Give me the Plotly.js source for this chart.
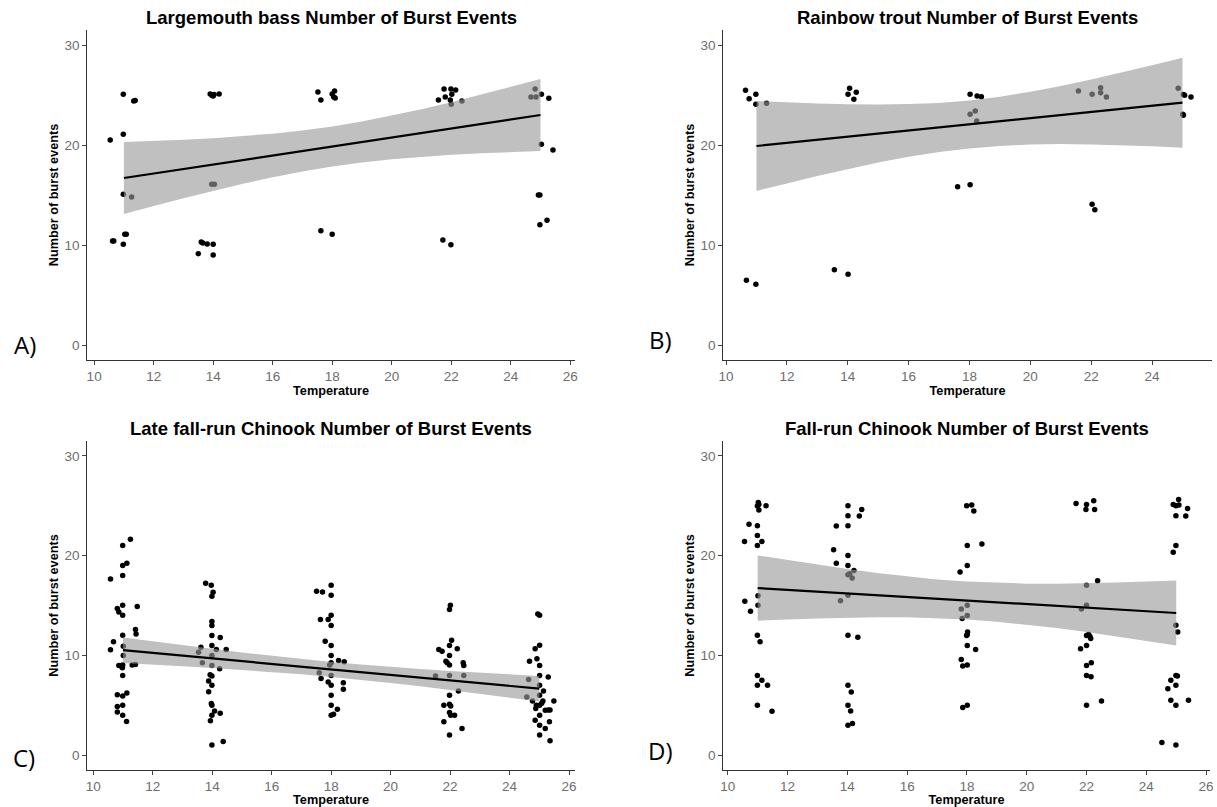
<!DOCTYPE html>
<html><head><meta charset="utf-8">
<script src="https://cdn.plot.ly/plotly-3.0.1.min.js"></script>
<style>html,body{margin:0;padding:0;background:#fff}#chart{width:1217px;height:807px}</style>
</head><body><div id="chart"></div>
<script>
// ---------------- data ----------------
const titles = ["Largemouth bass Number of Burst Events","Rainbow trout Number of Burst Events","Late fall-run Chinook Number of Burst Events","Fall-run Chinook Number of Burst Events"];
const panelLabels = ["A)","B)","C)","D)"];
const xTickVals = [10,12,14,16,18,20,22,24,26];
const yTickVals = [0,10,20,30];

// A) Largemouth bass
const xA = [10.54,10.62,10.66,10.98,10.98,10.98,10.98,11.03,11.08,11.33,11.38,11.26,13.5,13.6,13.65,13.8,14.0,14.0,13.9,13.96,14.0,14.03,14.2,13.95,14.04,17.52,17.62,18.0,18.05,18.08,18.1,17.62,18.0,21.57,21.76,21.8,21.99,22.02,21.97,22.15,22.0,22.36,21.72,21.99,24.68,24.82,24.85,25.03,25.28,25.03,25.42,24.93,24.98,25.22,24.98];
const yA = [20.5,10.4,10.4,25.07,21.07,15.07,10.07,11.07,11.07,24.4,24.45,14.8,9.13,10.3,10.2,10.1,10.07,9.0,25.1,24.95,24.9,25.05,25.1,16.07,16.07,25.3,24.5,25.1,24.8,25.4,24.7,11.43,11.07,24.5,25.6,24.8,25.6,25.07,24.5,25.5,24.07,24.4,10.5,10.03,24.8,25.6,24.8,25.07,24.67,20.07,19.5,15.0,15.0,12.47,12.03];

// B) Rainbow trout
const xB = [10.64,10.76,10.98,10.98,11.33,10.67,10.98,14.06,14.01,14.28,14.2,13.56,14.01,18.02,18.25,18.39,18.02,18.19,18.24,17.61,18.02,21.58,22.03,22.31,22.31,22.5,22.03,22.12,24.86,25.03,25.07,25.28,25.01,25.03];
const yB = [25.47,24.63,25.07,24.07,24.17,6.47,6.07,25.67,25.07,25.27,24.57,7.53,7.07,25.07,24.9,24.83,23.07,23.4,22.4,15.83,16.03,25.4,25.07,25.73,25.23,24.8,14.07,13.53,25.67,25.05,24.97,24.8,23.07,22.97];

// C) Late fall-run Chinook
const xC = [10.58,10.99,11.25,10.99,11.13,10.99,10.81,10.86,10.99,10.99,11.48,10.68,10.99,11.42,11.44,10.58,11.01,11.01,10.86,10.93,10.98,10.99,11.31,11.42,10.99,10.81,10.99,11.13,10.81,10.99,10.81,10.99,11.12,
  13.78,13.97,14.03,13.99,13.99,13.99,13.99,14.27,13.99,13.54,13.62,14.14,14.47,13.67,13.99,13.99,14.25,13.93,13.99,13.88,13.99,13.88,13.97,13.99,13.99,14.08,14.27,13.94,13.99,14.37,
  17.51,17.71,18.0,18.0,17.64,17.9,18.0,18.0,17.8,18.0,18.0,18.0,17.95,18.25,18.44,17.6,17.66,18.0,17.9,18.0,18.41,18.41,18.0,18.0,18.0,18.08,18.21,
  21.98,22.01,21.62,21.73,21.98,22.05,22.24,21.86,21.9,21.98,21.98,22.44,22.46,21.51,21.98,22.46,22.28,21.98,21.79,21.98,22.02,21.98,22.02,22.15,21.79,22.4,21.98,
  24.95,25.01,24.86,25.01,24.67,24.92,25.01,25.01,25.3,24.64,24.58,24.77,25.01,25.01,25.14,24.9,25.01,25.08,25.12,25.49,24.88,25.2,25.3,25.36,25.01,24.86,25.34,25.01,25.2,25.01,25.36];
const yC = [17.65,21.01,21.64,19.01,19.25,18.02,14.69,14.35,15.02,14.02,14.89,11.36,12.02,12.59,12.15,10.56,10.92,9.99,8.99,8.92,8.76,9.02,9.02,9.09,7.99,6.06,5.93,6.23,4.86,4.99,4.33,4.0,3.36,
  17.22,17.02,16.32,15.92,13.39,12.99,11.99,11.79,10.99,10.32,10.82,10.59,10.59,9.26,9.99,8.99,8.66,8.06,7.93,7.43,6.99,6.36,5.16,4.99,4.0,4.43,4.2,3.43,1.0,1.37,
  16.42,16.35,17.02,16.02,13.59,13.59,14.02,12.99,11.42,10.99,9.99,9.26,9.02,9.49,9.36,8.26,7.69,7.99,7.33,6.99,7.26,6.59,5.99,4.99,4.0,4.1,4.6,
  14.59,15.02,10.59,10.42,10.99,11.52,10.66,9.42,9.26,9.02,9.99,9.26,8.99,7.93,7.99,7.99,6.43,5.99,4.99,5.09,4.93,4.26,4.0,4.0,3.33,2.66,2.0,
  14.15,14.02,10.66,11.02,9.42,9.66,8.99,7.99,7.83,7.59,5.83,5.43,6.99,5.99,6.43,5.0,5.0,5.19,5.43,5.43,4.66,4.5,4.53,4.53,4.0,3.5,3.33,3.0,2.66,2.0,1.43];

// D) Fall-run Chinook
const xD = [10.56,10.71,11.02,11.04,10.99,11.28,11.04,10.99,10.99,11.14,10.99,10.57,10.76,11.01,11.01,10.99,11.08,10.99,11.14,10.99,11.33,10.99,11.48,
  14.02,14.02,14.4,14.48,13.63,14.02,13.54,13.63,14.02,14.02,14.22,14.02,14.08,14.16,13.77,14.02,14.02,14.35,14.02,14.13,14.02,14.11,14.02,14.17,
  17.99,18.16,18.23,18.01,18.5,18.01,17.77,17.81,17.84,18.01,18.01,18.02,18.01,17.99,18.01,18.29,17.81,17.86,18.01,17.86,18.01,
  21.65,22.0,21.98,22.24,22.27,22.0,22.37,21.83,22.0,22.0,22.11,22.14,22.07,21.8,22.0,22.0,22.16,22.0,22.15,22.5,22.0,
  24.9,24.99,25.09,25.08,25.38,24.99,25.32,24.99,24.9,24.99,25.05,24.99,25.04,24.82,24.72,24.99,24.82,24.99,25.41,24.52,24.99];
const yD = [21.41,23.14,25.34,25.14,24.97,25.0,24.58,23.01,22.01,21.41,21.01,15.42,14.42,15.98,15.02,12.02,11.36,7.99,7.49,6.99,6.99,5.0,4.4,
  25.01,24.01,23.98,24.64,22.98,23.01,20.58,19.25,20.01,19.01,18.52,18.08,18.18,17.75,15.48,16.02,12.02,11.82,6.99,6.33,5.0,4.43,3.0,3.16,
  25.01,25.07,24.48,21.01,21.18,19.01,18.35,14.65,13.69,15.02,13.99,12.35,12.09,11.99,10.99,10.59,9.59,8.92,9.02,4.76,5.0,
  25.24,25.14,24.64,25.51,24.64,17.02,17.48,14.65,15.02,11.99,11.92,11.69,12.09,10.66,10.99,8.99,9.26,7.99,7.86,5.43,5.0,
  25.14,25.01,25.07,25.64,24.74,24.01,23.98,21.01,20.35,13.02,12.35,7.99,7.93,7.49,6.66,6.99,5.49,5.0,5.49,1.27,1.0];

// fitted lines (end points) and confidence ribbons
const fitX = [11, 25];
const fitA = [16.7, 23.0];
const fitB = [19.9, 24.23];
const fitC = [10.52, 6.66];
const fitD = [16.75, 14.25];
const ribX = [11, 12, 13, 14, 15, 16, 17, 18, 19, 20, 21, 22, 23, 24, 25];
const upA = [20.30, 20.40, 20.53, 20.68, 20.88, 21.13, 21.45, 21.85, 22.35, 22.93, 23.58, 24.28, 25.03, 25.80, 26.60];
const loA = [13.10, 13.90, 14.67, 15.42, 16.12, 16.78, 17.36, 17.85, 18.26, 18.58, 18.82, 19.02, 19.17, 19.30, 19.40];
const upB = [24.40, 24.26, 24.15, 24.07, 24.04, 24.09, 24.21, 24.46, 24.83, 25.32, 25.89, 26.54, 27.24, 27.97, 28.73];
const loB = [15.40, 16.16, 16.89, 17.59, 18.24, 18.82, 19.29, 19.66, 19.91, 20.05, 20.09, 20.06, 19.98, 19.87, 19.73];
const upC = [11.80, 11.40, 11.02, 10.65, 10.29, 9.95, 9.63, 9.34, 9.08, 8.84, 8.63, 8.44, 8.27, 8.10, 7.94];
const loC = [9.24, 9.08, 8.91, 8.74, 8.55, 8.33, 8.10, 7.84, 7.55, 7.23, 6.89, 6.53, 6.16, 5.77, 5.38];
const upD = [20.02, 19.54, 19.08, 18.65, 18.26, 17.91, 17.62, 17.40, 17.26, 17.19, 17.18, 17.22, 17.30, 17.40, 17.52];
const loD = [13.48, 13.60, 13.70, 13.78, 13.82, 13.81, 13.74, 13.60, 13.38, 13.09, 12.74, 12.35, 11.92, 11.46, 10.98];

// ---------------- build ----------------
const W = 1217, H = 807;
const panels = [
  {xs:xA, ys:yA, fit:fitA, up:upA, lo:loA, px:[87,575], py:[30,360], xr:[9.76,26.16]},
  {xs:xB, ys:yB, fit:fitB, up:upB, lo:loB, px:[723,1212], py:[30,360], xr:[9.9,25.97]},
  {xs:xC, ys:yC, fit:fitC, up:upC, lo:loC, px:[87,575], py:[441,770], xr:[9.79,26.2]},
  {xs:xD, ys:yD, fit:fitD, up:upD, lo:loD, px:[723,1210], py:[441,770], xr:[9.84,26.13]}
];
const FONT = "Liberation Sans, Arial, sans-serif";
const traces = [];
const layout = {
  width: W, height: H, margin:{l:0,r:0,t:0,b:0},
  paper_bgcolor:'#ffffff', plot_bgcolor:'#ffffff', showlegend:false,
  font:{family:FONT, color:'#000'}, annotations:[]
};
panels.forEach((p,i)=>{
  const n = i===0 ? '' : String(i+1);
  const xa = 'x'+n, ya = 'y'+n;
  traces.push({type:'scatter', mode:'markers', x:p.xs, y:p.ys, xaxis:xa, yaxis:ya,
    marker:{color:'#000', size:5.5, line:{width:0}}, hoverinfo:'x+y'});
  traces.push({type:'scatter', mode:'lines', x:ribX.concat(ribX.slice().reverse()),
    y:p.up.concat(p.lo.slice().reverse()), xaxis:xa, yaxis:ya, fill:'toself',
    fillcolor:'rgba(153,153,153,0.62)', line:{width:0}, hoverinfo:'skip'});
  traces.push({type:'scatter', mode:'lines', x:fitX, y:p.fit, xaxis:xa, yaxis:ya,
    line:{color:'#000', width:2.2}, hoverinfo:'skip'});
  const axCommon = {showgrid:false, zeroline:false, showline:true, linecolor:'#333', linewidth:1.3,
    ticks:'outside', ticklen:3.5, tickwidth:1, tickcolor:'#444',
    tickfont:{family:FONT, size:13.5, color:'#6e6e6e'}};
  layout['xaxis'+n] = Object.assign({}, axCommon, {
    domain:[p.px[0]/W, p.px[1]/W], anchor:ya, range:p.xr, tickvals:xTickVals, ticktext:xTickVals.map(String),
    title:{text:'<b>Temperature</b>', font:{family:FONT, size:12.7, color:'#000'}, standoff:2}
  });
  layout['yaxis'+n] = Object.assign({}, axCommon, {
    domain:[1-p.py[1]/H, 1-p.py[0]/H], anchor:xa, range:[-1.5,31.5], tickvals:yTickVals, ticktext:yTickVals.map(String),
    title:{text:'<b>Number of burst events</b>', font:{family:FONT, size:12.7, color:'#000'}, standoff:3}
  });
  layout.annotations.push({xref:'paper', yref:'paper', x:(p.px[0]+p.px[1])/2/W, y:1-(p.py[0]-13)/H,
    text:'<b>'+titles[i]+'</b>', showarrow:false, xanchor:'center', yanchor:'middle',
    font:{family:FONT, size:18.5, color:'#000'}});
});
const labPos = [[25,345],[660,340],[24,757],[660,750]];
labPos.forEach((lp,i)=>{
  layout.annotations.push({xref:'paper', yref:'paper', x:lp[0]/W, y:1-lp[1]/H, text:panelLabels[i],
    showarrow:false, xanchor:'center', yanchor:'middle', font:{family:'Open Sans, sans-serif', size:24, color:'#000'}});
});
Plotly.newPlot('chart', traces, layout, {staticPlot:true});
</script></body></html>
